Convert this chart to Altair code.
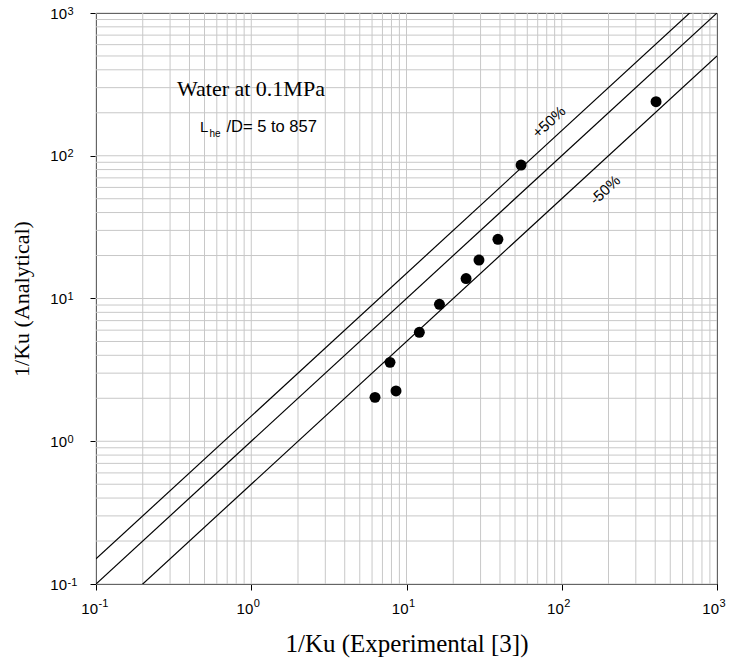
import altair as alt
import pandas as pd

# ---- data ----
exp_x = [6.27, 8.56, 7.83, 12.1, 16.3, 24.2, 29.3, 38.8, 54.7, 405]
ana_y = [2.03, 2.25, 3.57, 5.8, 9.1, 13.8, 18.6, 26.0, 86.1, 239]

band_names = ["+50%", "0%", "-50%"]
band_factors = [1.5, 1.0, 0.5]

decades = [0.1, 1, 10, 100, 1000]
decade_exps = ["-1", "0", "1", "2", "3"]

minor_mults = [1, 2, 3, 4, 5, 6, 7, 8, 9]

W, H = 621, 571
DOM = [0.1, 1000]

xs = alt.Scale(type="log", domain=DOM, nice=False)
ys = alt.Scale(type="log", domain=DOM, nice=False)

pts = pd.DataFrame({"x": exp_x, "y": ana_y})

line_rows = []
for name, f in zip(band_names, band_factors):
    for xv in DOM:
        line_rows.append({"band": name, "x": xv, "y": xv * f})
lines_df = pd.DataFrame(line_rows)

grid_vals = [m * d for d in decades[:-1] for m in minor_mults] + [decades[-1]]
grid_df = pd.DataFrame({"v": grid_vals})
dec_df = pd.DataFrame({"v": decades, "e": decade_exps})

grid_color = "#c8c8c8"

xgrid = alt.Chart(grid_df).mark_rule(color=grid_color, strokeWidth=1).encode(
    x=alt.X("v:Q", scale=xs,
            axis=alt.Axis(values=decades, labels=False, grid=False, domain=False,
                          tickSize=6, tickColor="black", tickWidth=1,
                          title="1/Ku (Experimental [3])",
                          titleFont="Liberation Serif", titleFontSize=25,
                          titleFontWeight="normal", titleColor="black",
                          titlePadding=41)),
)
ygrid = alt.Chart(grid_df).mark_rule(color=grid_color, strokeWidth=1).encode(
    y=alt.Y("v:Q", scale=ys,
            axis=alt.Axis(values=decades, labels=False, grid=False, domain=False,
                          tickSize=6, tickColor="black", tickWidth=1,
                          title="1/Ku (Analytical)",
                          titleFont="Liberation Serif", titleFontSize=22,
                          titleFontWeight="normal", titleColor="black",
                          titlePadding=56)),
)

lines = alt.Chart(lines_df).mark_line(color="black", strokeWidth=1.2, clip=True).encode(
    x=alt.X("x:Q", scale=xs),
    y=alt.Y("y:Q", scale=ys),
    detail="band:N",
)

points = alt.Chart(pts).mark_point(filled=True, color="black", size=120, opacity=1).encode(
    x=alt.X("x:Q", scale=xs),
    y=alt.Y("y:Q", scale=ys),
)

# tick labels with superscript exponents
xlab_base = alt.Chart(dec_df).mark_text(align="right", baseline="alphabetic", dx=2,
                                        font="Liberation Sans", fontSize=15, color="black").encode(
    x=alt.X("v:Q", scale=xs), y=alt.value(H + 30), text=alt.value("10"))
xlab_exp = alt.Chart(dec_df).mark_text(align="left", baseline="alphabetic", dx=2.5,
                                       font="Liberation Sans", fontSize=11, color="black").encode(
    x=alt.X("v:Q", scale=xs), y=alt.value(H + 23), text="e:N")
ylab_base = alt.Chart(dec_df).mark_text(align="right", baseline="alphabetic", dy=5.5,
                                        font="Liberation Sans", fontSize=15, color="black").encode(
    y=alt.Y("v:Q", scale=ys), x=alt.value(-29), text=alt.value("10"))
ylab_exp = alt.Chart(dec_df).mark_text(align="left", baseline="alphabetic", dy=1.5,
                                       font="Liberation Sans", fontSize=11, color="black").encode(
    y=alt.Y("v:Q", scale=ys), x=alt.value(-28.5), text="e:N")

def txt(s, x, y, size, font="Liberation Sans", angle=0, align="left", baseline="alphabetic"):
    kw = dict(align=align, baseline=baseline, font=font, fontSize=size, color="black")
    if angle:
        kw["angle"] = angle
    return alt.Chart(pd.DataFrame({"t": [s]})).mark_text(**kw).encode(
        x=alt.value(x), y=alt.value(y), text="t:N")

ann = [
    txt("Water at 0.1MPa", 81, 83, 22, font="Liberation Serif"),
    txt("L", 104, 119, 15),
    txt("he", 113.5, 123.5, 10),
    txt("/D= 5 to 857", 130.5, 119, 16.5),
    txt("+50%", 453, 109, 15, angle=317.4, align="center", baseline="middle"),
    txt("-50%", 509, 177, 15, angle=317.4, align="center", baseline="middle"),
]

chart = alt.layer(xgrid, ygrid, lines, points, xlab_base, xlab_exp, ylab_base, ylab_exp, *ann).properties(
    width=W, height=H,
    autosize=alt.AutoSizeParams(type="none"),
    padding={"left": 96, "top": 13, "right": 12, "bottom": 75},
    background="white",
).configure_view(stroke="black", strokeWidth=1)

chart.save("out.html", embed_options={"renderer": "svg", "actions": False})
